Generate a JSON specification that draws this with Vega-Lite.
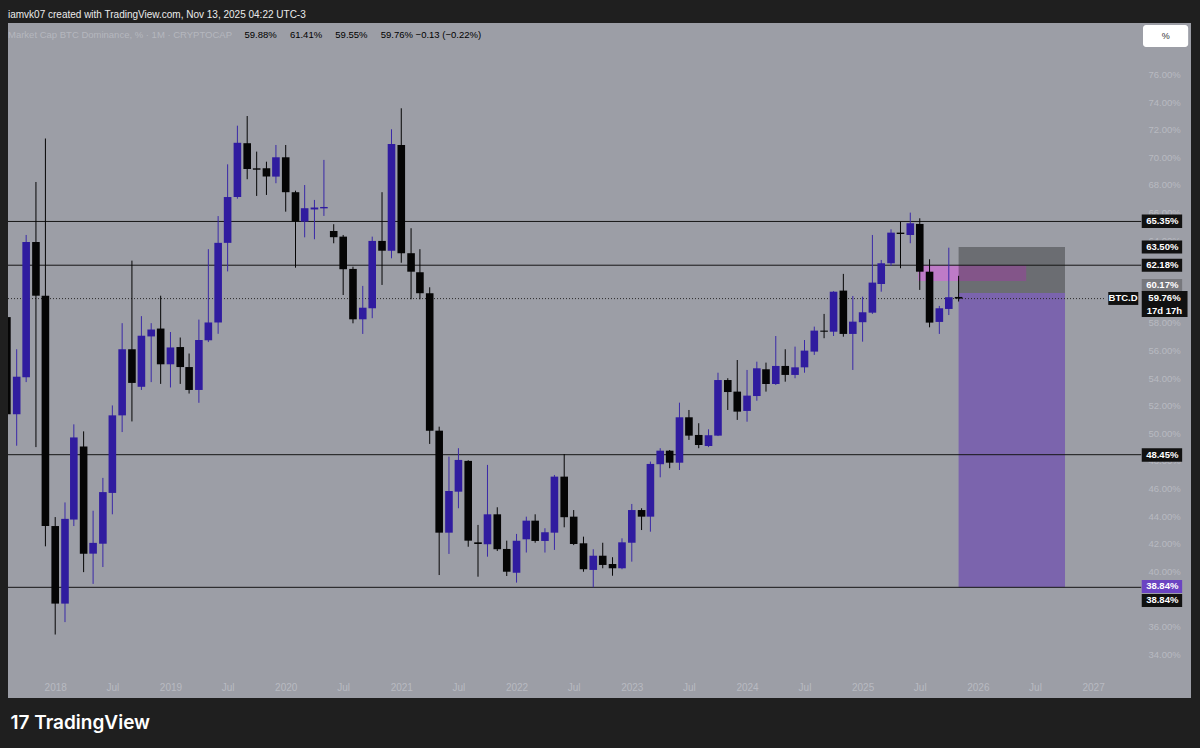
{
"$schema":"https://vega.github.io/schema/vega-lite/v6.json",
"width":1183,"height":675,
"autosize":{"type":"none"},
"padding":{"left":8,"top":23,"right":9,"bottom":50},
"background":"#1f1f1f",
"config":{"view":{"fill":"#9c9ea6","stroke":null},"font":"Liberation Sans"},
"title":{"text":"iamvk07 created with TradingView.com, Nov 13, 2025 04:22 UTC-3","subtitle":"\u00a0\u00a0Market Cap BTC Dominance, % · 1M · CRYPTOCAP","anchor":"start","frame":"group","offset":-16,"color":"#ececec","fontSize":10,"fontWeight":"normal","font":"Liberation Sans","subtitleColor":"#b5b7be","subtitleFontSize":9.5,"subtitleFont":"Liberation Sans","subtitlePadding":10},
"datasets":{"candles":[
{"date":"2017-08-01","open":58.42,"high":58.9,"low":50.9,"close":51.38},
{"date":"2017-09-01","open":51.38,"high":56.09,"low":49.1,"close":54.1},
{"date":"2017-10-01","open":54.07,"high":64.37,"low":53.71,"close":63.86},
{"date":"2017-11-01","open":63.86,"high":68.21,"low":49.0,"close":59.97},
{"date":"2017-12-01","open":59.97,"high":71.36,"low":41.81,"close":43.28},
{"date":"2018-01-01","open":43.28,"high":43.93,"low":35.42,"close":37.66},
{"date":"2018-02-01","open":37.66,"high":44.99,"low":36.32,"close":43.8},
{"date":"2018-03-01","open":43.75,"high":50.65,"low":43.28,"close":49.7},
{"date":"2018-04-01","open":49.05,"high":50.14,"low":39.94,"close":41.28},
{"date":"2018-05-01","open":41.28,"high":44.39,"low":39.09,"close":42.06},
{"date":"2018-06-01","open":42.0,"high":46.77,"low":40.31,"close":45.74},
{"date":"2018-07-01","open":45.68,"high":52.02,"low":44.13,"close":51.3},
{"date":"2018-08-01","open":51.3,"high":57.98,"low":50.09,"close":56.09},
{"date":"2018-09-01","open":56.09,"high":62.51,"low":50.86,"close":53.65},
{"date":"2018-10-01","open":53.37,"high":58.49,"low":53.14,"close":57.07},
{"date":"2018-11-01","open":57.02,"high":57.98,"low":53.71,"close":57.52},
{"date":"2018-12-01","open":57.59,"high":59.97,"low":53.58,"close":55.0},
{"date":"2019-01-01","open":55.0,"high":57.34,"low":53.32,"close":56.22},
{"date":"2019-02-01","open":56.25,"high":56.94,"low":53.58,"close":54.8},
{"date":"2019-03-01","open":54.8,"high":55.78,"low":52.88,"close":53.14},
{"date":"2019-04-01","open":53.14,"high":58.24,"low":52.21,"close":56.76},
{"date":"2019-05-01","open":56.74,"high":63.34,"low":56.61,"close":58.03},
{"date":"2019-06-01","open":58.03,"high":65.74,"low":57.21,"close":63.8},
{"date":"2019-07-01","open":63.8,"high":69.49,"low":61.73,"close":67.12},
{"date":"2019-08-01","open":67.12,"high":72.29,"low":67.0,"close":71.05},
{"date":"2019-09-01","open":71.02,"high":72.99,"low":68.41,"close":69.15},
{"date":"2019-10-01","open":69.2,"high":70.41,"low":67.2,"close":69.1},
{"date":"2019-11-01","open":69.2,"high":69.68,"low":67.27,"close":68.6},
{"date":"2019-12-01","open":68.6,"high":70.89,"low":68.12,"close":70.0},
{"date":"2020-01-01","open":70.0,"high":70.89,"low":66.06,"close":67.47},
{"date":"2020-02-01","open":67.47,"high":67.58,"low":62.0,"close":65.34},
{"date":"2020-03-01","open":65.34,"high":67.99,"low":64.2,"close":66.31},
{"date":"2020-04-01","open":66.22,"high":66.91,"low":64.06,"close":66.36},
{"date":"2020-05-01","open":66.3,"high":69.81,"low":65.75,"close":66.4},
{"date":"2020-06-01","open":64.66,"high":65.15,"low":63.77,"close":64.21},
{"date":"2020-07-01","open":64.25,"high":64.37,"low":60.02,"close":61.89},
{"date":"2020-08-01","open":61.91,"high":62.07,"low":57.97,"close":58.26},
{"date":"2020-09-01","open":58.26,"high":60.68,"low":57.2,"close":59.1},
{"date":"2020-10-01","open":59.06,"high":64.25,"low":58.34,"close":63.94},
{"date":"2020-11-01","open":63.94,"high":67.47,"low":60.75,"close":63.23},
{"date":"2020-12-01","open":63.23,"high":72.03,"low":62.68,"close":70.97},
{"date":"2021-01-01","open":70.89,"high":73.55,"low":62.36,"close":63.05},
{"date":"2021-02-01","open":63.05,"high":64.86,"low":59.71,"close":61.71},
{"date":"2021-03-01","open":61.67,"high":63.34,"low":59.71,"close":60.15},
{"date":"2021-04-01","open":60.15,"high":60.58,"low":49.23,"close":50.19},
{"date":"2021-05-01","open":50.19,"high":50.48,"low":39.73,"close":42.8},
{"date":"2021-06-01","open":42.8,"high":48.31,"low":41.26,"close":45.82},
{"date":"2021-07-01","open":45.77,"high":48.92,"low":44.57,"close":48.07},
{"date":"2021-08-01","open":48.0,"high":48.05,"low":41.78,"close":42.22},
{"date":"2021-09-01","open":42.1,"high":43.36,"low":39.61,"close":41.98},
{"date":"2021-10-01","open":41.96,"high":47.71,"low":41.06,"close":44.13},
{"date":"2021-11-01","open":44.13,"high":44.64,"low":41.47,"close":41.6},
{"date":"2021-12-01","open":41.62,"high":42.22,"low":39.66,"close":39.97},
{"date":"2022-01-01","open":39.9,"high":42.71,"low":39.18,"close":42.22},
{"date":"2022-02-01","open":42.32,"high":43.96,"low":41.36,"close":43.67},
{"date":"2022-03-01","open":43.67,"high":44.13,"low":42.07,"close":42.2},
{"date":"2022-04-01","open":42.2,"high":43.12,"low":41.36,"close":42.83},
{"date":"2022-05-01","open":42.8,"high":46.98,"low":41.55,"close":46.86},
{"date":"2022-06-01","open":46.86,"high":48.5,"low":43.19,"close":43.92},
{"date":"2022-07-01","open":43.96,"high":44.44,"low":41.9,"close":41.98},
{"date":"2022-08-01","open":42.03,"high":42.51,"low":39.97,"close":40.15},
{"date":"2022-09-01","open":40.1,"high":41.6,"low":38.84,"close":41.13},
{"date":"2022-10-01","open":41.13,"high":42.07,"low":40.22,"close":40.46},
{"date":"2022-11-01","open":40.53,"high":41.02,"low":39.68,"close":40.22},
{"date":"2022-12-01","open":40.22,"high":42.39,"low":40.15,"close":42.1},
{"date":"2023-01-01","open":42.07,"high":44.88,"low":40.7,"close":44.44},
{"date":"2023-02-01","open":44.44,"high":44.57,"low":42.99,"close":43.96},
{"date":"2023-03-01","open":43.96,"high":47.95,"low":42.87,"close":47.78},
{"date":"2023-04-01","open":47.76,"high":48.92,"low":46.81,"close":48.74},
{"date":"2023-05-01","open":48.74,"high":48.79,"low":47.47,"close":47.87},
{"date":"2023-06-01","open":47.87,"high":52.22,"low":47.34,"close":51.16},
{"date":"2023-07-01","open":51.16,"high":51.69,"low":49.52,"close":49.83},
{"date":"2023-08-01","open":49.88,"high":50.73,"low":48.92,"close":49.15},
{"date":"2023-09-01","open":49.08,"high":50.29,"low":49.0,"close":49.86},
{"date":"2023-10-01","open":49.83,"high":54.39,"low":49.8,"close":53.86},
{"date":"2023-11-01","open":53.86,"high":53.99,"low":51.69,"close":52.99},
{"date":"2023-12-01","open":53.02,"high":55.31,"low":50.97,"close":51.57},
{"date":"2024-01-01","open":51.62,"high":54.59,"low":50.84,"close":52.73},
{"date":"2024-02-01","open":52.7,"high":55.19,"low":52.36,"close":54.71},
{"date":"2024-03-01","open":54.64,"high":55.12,"low":53.02,"close":53.57},
{"date":"2024-04-01","open":53.57,"high":57.05,"low":53.5,"close":54.88},
{"date":"2024-05-01","open":54.88,"high":56.09,"low":53.74,"close":54.23},
{"date":"2024-06-01","open":54.23,"high":56.28,"low":53.99,"close":54.78},
{"date":"2024-07-01","open":54.78,"high":56.76,"low":54.39,"close":55.99},
{"date":"2024-08-01","open":55.92,"high":57.73,"low":55.68,"close":57.44},
{"date":"2024-09-01","open":57.44,"high":58.65,"low":56.89,"close":57.36},
{"date":"2024-10-01","open":57.36,"high":60.3,"low":57.05,"close":60.26},
{"date":"2024-11-01","open":60.34,"high":61.55,"low":57.0,"close":57.2},
{"date":"2024-12-01","open":57.2,"high":59.95,"low":54.59,"close":58.09},
{"date":"2025-01-01","open":58.05,"high":59.9,"low":56.64,"close":58.77},
{"date":"2025-02-01","open":58.74,"high":64.37,"low":58.65,"close":60.92},
{"date":"2025-03-01","open":60.82,"high":62.56,"low":60.26,"close":62.32},
{"date":"2025-04-01","open":62.32,"high":64.78,"low":62.13,"close":64.54},
{"date":"2025-05-01","open":64.54,"high":65.34,"low":61.96,"close":64.44},
{"date":"2025-06-01","open":64.37,"high":65.99,"low":63.77,"close":65.22},
{"date":"2025-07-01","open":65.17,"high":65.58,"low":60.39,"close":61.71},
{"date":"2025-08-01","open":61.71,"high":62.61,"low":57.68,"close":58.02},
{"date":"2025-09-01","open":58.07,"high":59.23,"low":57.2,"close":59.06},
{"date":"2025-10-01","open":59.01,"high":63.45,"low":58.57,"close":59.86},
{"date":"2025-11-01","open":59.88,"high":61.41,"low":59.55,"close":59.76}
]},
"layer":[
{"data":{"values":[
 {"zone":"pink","start":"2025-06-26","end":"2026-06-03","top":62.2,"bottom":61.04},
 {"zone":"stop","start":"2025-11-01","end":"2026-10-04","top":63.5,"bottom":60.17},
 {"zone":"target","start":"2025-11-01","end":"2026-10-04","top":60.17,"bottom":38.84}]},
 "mark":{"type":"rect","opacity":1},
 "encoding":{
  "x":{"field":"start","type":"temporal"},
  "x2":{"field":"end"},
  "y":{"field":"top","type":"quantitative"},
  "y2":{"field":"bottom"},
  "color":{"field":"zone","type":"nominal","scale":{"domain":["pink","stop","target"],"range":["rgba(214,100,222,0.6)","rgba(0,0,0,0.31)","#7b64ad"]},"legend":null}}},
{"data":{"values":[{"level":65.35},{"level":62.18},{"level":48.45},{"level":38.84}]},
 "mark":{"type":"rule","color":"#161616","strokeWidth":1},
 "encoding":{"y":{"field":"level","type":"quantitative"},
  "x":{"datum":{"year":2017,"month":8,"date":4,"hours":12,"utc":true}},
  "x2":{"datum":{"year":2027,"month":6,"date":2,"hours":12,"utc":true}}}},
{"data":{"values":[{}]},
 "mark":{"type":"rule","color":"#2b2b2b","strokeDash":[1,2],"strokeWidth":1},
 "encoding":{"y":{"datum":59.76},
  "x":{"datum":{"year":2017,"month":8,"date":4,"hours":12,"utc":true}},
  "x2":{"datum":{"year":2027,"month":2,"date":5,"utc":true}}}},
{"data":{"name":"candles"},
 "mark":{"type":"rule","strokeWidth":1,"clip":true},
 "encoding":{
  "x":{"field":"date","type":"temporal",
   "scale":{"type":"utc","padding":0,"domain":[{"year":2017,"month":8,"date":4,"hours":12,"utc":true},{"year":2027,"month":11,"date":7,"utc":true}]},
   "axis":{"orient":"bottom","offset":-22,"tickCount":40,
    "values":[{"year":2018,"month":1,"date":1,"utc":true},{"year":2018,"month":7,"date":1,"utc":true},{"year":2019,"month":1,"date":1,"utc":true},{"year":2019,"month":7,"date":1,"utc":true},{"year":2020,"month":1,"date":1,"utc":true},{"year":2020,"month":7,"date":1,"utc":true},{"year":2021,"month":1,"date":1,"utc":true},{"year":2021,"month":7,"date":1,"utc":true},{"year":2022,"month":1,"date":1,"utc":true},{"year":2022,"month":7,"date":1,"utc":true},{"year":2023,"month":1,"date":1,"utc":true},{"year":2023,"month":7,"date":1,"utc":true},{"year":2024,"month":1,"date":1,"utc":true},{"year":2024,"month":7,"date":1,"utc":true},{"year":2025,"month":1,"date":1,"utc":true},{"year":2025,"month":7,"date":1,"utc":true},{"year":2026,"month":1,"date":1,"utc":true},{"year":2026,"month":7,"date":1,"utc":true},{"year":2027,"month":1,"date":1,"utc":true}],
    "labelExpr":"utcFormat(datum.value, '%m') == '01' ? utcFormat(datum.value, '%Y') : 'Jul'",
    "labelColor":"#b8bac1","labelFontSize":10,"labelPadding":6,"labelFlush":false,"labelOverlap":false,"labelBound":false,
    "domain":false,"ticks":false,"grid":false,
    "title":"17 TradingView","titleX":2,"titleY":46,"titleAlign":"left","titleBaseline":"middle","titleAngle":0,
    "titleColor":"#ffffff","titleFontSize":19,"titleFontWeight":600,"titleFont":"Inter"}},
  "y":{"field":"low","type":"quantitative",
   "scale":{"domain":[30.82,79.73],"nice":false,"zero":false,"padding":0},
   "axis":{"orient":"right","offset":-53,"tickCount":40,
    "values":[34,36,38,40,42,44,46,48,50,52,54,56,58,60,62,64,66,68,70,72,74,76],
    "labelExpr":"format(datum.value, '.2f') + '%'",
    "labelColor":"#b8bac1","labelFontSize":9.5,"labelPadding":10,"labelAlign":"left","labelBaseline":"middle","labelOverlap":false,"labelBound":false,"labelFlush":false,
    "domain":false,"ticks":false,"grid":false,
    "title":"59.88%\u00a0\u00a0\u00a0\u00a0\u00a061.41%\u00a0\u00a0\u00a0\u00a0\u00a059.55%\u00a0\u00a0\u00a0\u00a0\u00a059.76%\u00a0−0.13 (−0.22%)",
    "titleAngle":0,"titleX":-894,"titleY":11,"titleAlign":"left","titleBaseline":"middle",
    "titleColor":"#000000","titleFontSize":9.5,"titleFontWeight":"normal"}},
  "y2":{"field":"high"},
  "color":{"condition":{"test":"datum.close >= datum.open","value":"#3a29a8"},"value":"#050505"}}},
{"data":{"name":"candles"},
 "mark":{"type":"bar","width":7.6,"clip":true},
 "encoding":{
  "x":{"field":"date","type":"temporal"},
  "y":{"field":"open","type":"quantitative"},
  "y2":{"field":"close"},
  "color":{"condition":{"test":"datum.close >= datum.open","value":"#301c9f"},"value":"#050505"}}},
{"data":{"values":[{}]},"mark":{"type":"rect","color":"#111111"},
 "encoding":{"x":{"datum":{"year":2027,"month":6,"date":4,"utc":true}},"x2":{"datum":{"year":2027,"month":10,"date":10,"utc":true}},"y":{"datum":65.86},"y2":{"datum":64.88}}},
{"data":{"values":[{}]},"mark":{"type":"rect","color":"#111111"},
 "encoding":{"x":{"datum":{"year":2027,"month":6,"date":4,"utc":true}},"x2":{"datum":{"year":2027,"month":10,"date":10,"utc":true}},"y":{"datum":63.97},"y2":{"datum":63.03}}},
{"data":{"values":[{}]},"mark":{"type":"rect","color":"#111111"},
 "encoding":{"x":{"datum":{"year":2027,"month":6,"date":4,"utc":true}},"x2":{"datum":{"year":2027,"month":10,"date":10,"utc":true}},"y":{"datum":62.65},"y2":{"datum":61.71}}},
{"data":{"values":[{}]},"mark":{"type":"rect","color":"#77787d"},
 "encoding":{"x":{"datum":{"year":2027,"month":6,"date":4,"utc":true}},"x2":{"datum":{"year":2027,"month":10,"date":10,"utc":true}},"y":{"datum":61.18},"y2":{"datum":60.24}}},
{"data":{"values":[{}]},"mark":{"type":"rect","color":"#111111"},
 "encoding":{"x":{"datum":{"year":2027,"month":6,"date":4,"utc":true}},"x2":{"datum":{"year":2027,"month":10,"date":27,"utc":true}},"y":{"datum":60.31},"y2":{"datum":58.43}}},
{"data":{"values":[{}]},"mark":{"type":"rect","color":"#111111"},
 "encoding":{"x":{"datum":{"year":2027,"month":2,"date":18,"utc":true}},"x2":{"datum":{"year":2027,"month":5,"date":24,"utc":true}},"y":{"datum":60.24},"y2":{"datum":59.3}}},
{"data":{"values":[{}]},"mark":{"type":"rect","color":"#111111"},
 "encoding":{"x":{"datum":{"year":2027,"month":6,"date":4,"utc":true}},"x2":{"datum":{"year":2027,"month":10,"date":10,"utc":true}},"y":{"datum":48.92},"y2":{"datum":47.94}}},
{"data":{"values":[{}]},"mark":{"type":"rect","color":"#6b44c2"},
 "encoding":{"x":{"datum":{"year":2027,"month":6,"date":4,"utc":true}},"x2":{"datum":{"year":2027,"month":10,"date":10,"utc":true}},"y":{"datum":39.37},"y2":{"datum":38.43}}},
{"data":{"values":[{}]},"mark":{"type":"rect","color":"#111111"},
 "encoding":{"x":{"datum":{"year":2027,"month":6,"date":4,"utc":true}},"x2":{"datum":{"year":2027,"month":10,"date":10,"utc":true}},"y":{"datum":38.36},"y2":{"datum":37.42}}},
{"data":{"values":[{}]},"mark":{"type":"rect","color":"#ffffff","cornerRadius":3},
 "encoding":{"x":{"datum":{"year":2027,"month":6,"date":8,"utc":true}},"x2":{"datum":{"year":2027,"month":10,"date":29,"utc":true}},"y":{"datum":79.59},"y2":{"datum":77.99}}},
{"data":{"values":[{}]},"mark":{"type":"text","color":"#ffffff","fontSize":9.5,"fontWeight":"bold","align":"center","baseline":"middle"},
 "encoding":{"x":{"datum":{"year":2027,"month":8,"date":8,"utc":true}},"y":{"datum":65.35},"text":{"value":"65.35%"}}},
{"data":{"values":[{}]},"mark":{"type":"text","color":"#ffffff","fontSize":9.5,"fontWeight":"bold","align":"center","baseline":"middle"},
 "encoding":{"x":{"datum":{"year":2027,"month":8,"date":8,"utc":true}},"y":{"datum":63.5},"text":{"value":"63.50%"}}},
{"data":{"values":[{}]},"mark":{"type":"text","color":"#ffffff","fontSize":9.5,"fontWeight":"bold","align":"center","baseline":"middle"},
 "encoding":{"x":{"datum":{"year":2027,"month":8,"date":8,"utc":true}},"y":{"datum":62.18},"text":{"value":"62.18%"}}},
{"data":{"values":[{}]},"mark":{"type":"text","color":"#ffffff","fontSize":9.5,"fontWeight":"bold","align":"center","baseline":"middle"},
 "encoding":{"x":{"datum":{"year":2027,"month":8,"date":8,"utc":true}},"y":{"datum":60.71},"text":{"value":"60.17%"}}},
{"data":{"values":[{}]},"mark":{"type":"text","color":"#ffffff","fontSize":9.5,"fontWeight":"bold","align":"center","baseline":"middle"},
 "encoding":{"x":{"datum":{"year":2027,"month":8,"date":15,"utc":true}},"y":{"datum":59.81},"text":{"value":"59.76%"}}},
{"data":{"values":[{}]},"mark":{"type":"text","color":"#ffffff","fontSize":9.5,"fontWeight":"bold","align":"center","baseline":"middle"},
 "encoding":{"x":{"datum":{"year":2027,"month":8,"date":15,"utc":true}},"y":{"datum":58.87},"text":{"value":"17d 17h"}}},
{"data":{"values":[{}]},"mark":{"type":"text","color":"#ffffff","fontSize":9.5,"fontWeight":"bold","align":"center","baseline":"middle"},
 "encoding":{"x":{"datum":{"year":2027,"month":4,"date":6,"utc":true}},"y":{"datum":59.77},"text":{"value":"BTC.D"}}},
{"data":{"values":[{}]},"mark":{"type":"text","color":"#ffffff","fontSize":9.5,"fontWeight":"bold","align":"center","baseline":"middle"},
 "encoding":{"x":{"datum":{"year":2027,"month":8,"date":8,"utc":true}},"y":{"datum":48.43},"text":{"value":"48.45%"}}},
{"data":{"values":[{}]},"mark":{"type":"text","color":"#ffffff","fontSize":9.5,"fontWeight":"bold","align":"center","baseline":"middle"},
 "encoding":{"x":{"datum":{"year":2027,"month":8,"date":8,"utc":true}},"y":{"datum":38.9},"text":{"value":"38.84%"}}},
{"data":{"values":[{}]},"mark":{"type":"text","color":"#ffffff","fontSize":9.5,"fontWeight":"bold","align":"center","baseline":"middle"},
 "encoding":{"x":{"datum":{"year":2027,"month":8,"date":8,"utc":true}},"y":{"datum":37.89},"text":{"value":"38.84%"}}},
{"data":{"values":[{}]},"mark":{"type":"text","color":"#333333","fontSize":9,"align":"center","baseline":"middle"},
 "encoding":{"x":{"datum":{"year":2027,"month":8,"date":19,"utc":true}},"y":{"datum":78.79},"text":{"value":"%"}}}
]
}
